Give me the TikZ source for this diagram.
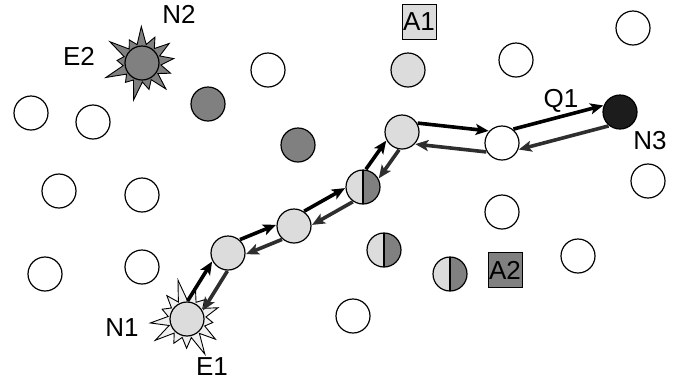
\documentclass[tikz,border=0pt]{standalone}
\usepackage{fontspec}
\setmainfont{Liberation Sans}
\usetikzlibrary{calc,arrows.meta}
\definecolor{lgray}{HTML}{DCDCDC}
\definecolor{dgray}{HTML}{808080}
\definecolor{blk}{HTML}{1C1C1C}
\definecolor{bwdc}{HTML}{2E2E2E}
\definecolor{starlight}{HTML}{F0F0F0}
\tikzset{
  nd/.style={circle,draw=black,line width=1.2pt,minimum size=34pt,inner sep=0pt},
  emp/.style={nd,fill=white},
  lg/.style={nd,fill=lgray},
  dg/.style={nd,fill=dgray},
  bk/.style={nd,fill=blk},
  half/.style={nd,fill=lgray,path picture={
     \fill[dgray] (path picture bounding box.north) rectangle (path picture bounding box.south east);
     \draw[line width=1.2pt] (path picture bounding box.north) -- (path picture bounding box.south);}},
  lbl/.style={font=\fontsize{26}{30}\selectfont,inner sep=0pt},
  boxlbl/.style={lbl,draw=black,line width=1pt,inner sep=1pt,minimum width=34pt,minimum height=35pt},
  fwd/.style={line width=3.6pt,draw=black,-{Stealth[length=13pt,width=11pt,inset=3pt]}},
  bwd/.style={line width=3.6pt,draw=bwdc,-{Stealth[length=13pt,width=11pt,inset=3pt]}},
  starb/.style={draw=black,line width=0.9pt,line join=miter},
}
% #3 = angle asin(offset/18)
\newcommand\biarr[3]{%
  \draw[fwd] ($(#1)!18pt!#3:(#2)$) -- ($(#2)!18pt!-#3:(#1)$);
  \draw[bwd] ($(#2)!18pt!#3:(#1)$) -- ($(#1)!18pt!-#3:(#2)$);}
\begin{document}
\begin{tikzpicture}[x=1pt,y=-1pt]
\useasboundingbox (0,0) rectangle (683,384);
% star bursts
\begin{scope}[shift={(142,63)},rotate=8]
  \draw[starb,fill=dgray] plot[samples at={0,...,25}] ({\x*360/26}:{19+(1-mod(\x,2))*(13+7*sin(\x*97))}) -- cycle;
\end{scope}
\begin{scope}[shift={(187,319)},rotate=20]
  \draw[starb,fill=starlight] plot[samples at={0,...,25}] ({\x*360/26}:{19+(1-mod(\x,2))*(14+7*sin(\x*131))}) -- cycle;
\end{scope}
% empty nodes
\node[emp] (e1) at (31,113) {};
\node[emp] (e2) at (93,122) {};
\node[emp] (e3) at (59,191) {};
\node[emp] (e4) at (142,195) {};
\node[emp] (e5) at (45,274) {};
\node[emp] (e6) at (142,267) {};
\node[emp] (e7) at (268,70) {};
\node[emp] (e8) at (516,60) {};
\node[emp] (e9) at (633,28) {};
\node[emp] (e10) at (648,181) {};
\node[emp] (e11) at (502,212) {};
\node[emp] (e12) at (578,256) {};
\node[emp] (e13) at (353,316) {};
% dark gray
\node[dg] (n2) at (142,63) {};
\node[dg] (d1) at (208,104) {};
\node[dg] (d2) at (298,145) {};
% light gray
\node[lg] (l1) at (408,70) {};
\node[lg] (n1) at (187,319) {};
\node[lg] (p1) at (228,253) {};
\node[lg] (p2) at (294,226) {};
\node[half] (p3) at (363,187) {};
\node[lg] (p4) at (402,132) {};
\node[emp] (p5) at (502,143) {};
\node[bk] (n3) at (620,112) {};
% half nodes
\node[half] (h1) at (384,250) {};
\node[half] (h2) at (450,274) {};
% arrows
\biarr{n1}{p1}{30}
\biarr{p1}{p2}{26}
\biarr{p2}{p3}{26}
\biarr{p3}{p4}{26}
\biarr{p4}{p5}{36}
\biarr{p5}{n3}{36}
% labels
\node[lbl] (tN2) at (179,14) {N2};
\node[lbl] (tE2) at (79,56) {E2};
\node[boxlbl,fill=lgray] (tA1) at (419,22) {A1};
\node[lbl] (tQ1) at (561,101) {Q1};
\node[lbl] (tN3) at (650,141) {N3};
\node[boxlbl,fill=dgray] (tA2) at (505,270) {A2};
\node[lbl] (tN1) at (122,328) {N1};
\node[lbl] (tE1) at (212,367) {E1};
\end{tikzpicture}
\end{document}
